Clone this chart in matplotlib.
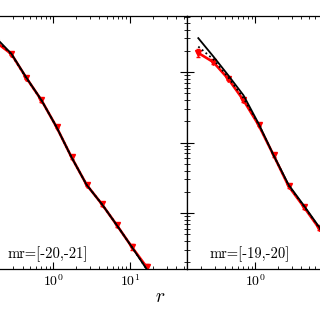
import numpy as np
import matplotlib
matplotlib.use("Agg")
import matplotlib.pyplot as plt

plt.rcParams['mathtext.fontset'] = 'cm'
plt.rcParams['font.family'] = ['cmr10', 'DejaVu Serif']
plt.rcParams['axes.formatter.use_mathtext'] = True

# log10 of separation r (common bin grid)
log_r = [-0.74, -0.544, -0.348, -0.152, 0.044, 0.24, 0.436, 0.632, 0.828, 1.024, 1.22]

# Left panel: mr=[-20,-21]  (log10 of the correlation values)
left_black = [2.48, 2.26, 1.92, 1.60, 1.22, 0.79, 0.40, 0.13, -0.17, -0.48, -0.80]
left_dotted = [2.46, 2.25, 1.91, 1.60, 1.22, 0.79, 0.40, 0.13, -0.17, -0.48, -0.80]
left_red = [2.42, 2.255, 1.915, 1.60, 1.22, 0.79, 0.40, 0.13, -0.17, -0.48, -0.77]
left_err = [0.04, 0.02, 0.02, 0.02, 0.02, 0.02, 0.02, 0.03, 0.03, 0.04, 0.05]

# Right panel: mr=[-19,-20]
right_black = [2.48, 2.22, 1.95, 1.67, 1.27, 0.82, 0.40, 0.11, -0.19, -0.50, -0.80]
right_dotted = [2.36, 2.18, 1.92, 1.63, 1.26, 0.82, 0.39, 0.10, -0.20, -0.50, -0.80]
right_red = [2.27, 2.14, 1.90, 1.60, 1.25, 0.82, 0.38, 0.09, -0.21, -0.50, -0.80]
right_err = [0.06, 0.03, 0.02, 0.02, 0.02, 0.02, 0.02, 0.03, 0.03, 0.04, 0.05]

labels = ['mr=[-20,-21]', 'mr=[-19,-20]']

fig = plt.figure(figsize=(3.2, 3.2), dpi=100)
W, H = 320.0, 320.0
top_px, bot_px = 16, 269
panel_w = 202
lefts = [-15, 187]

r = 10 ** np.array(log_r)
xlim = (10 ** -0.887, 10 ** 1.743)
ylim = (10 ** -0.794, 10 ** 2.794)

datasets = [(left_black, left_dotted, left_red, left_err),
            (right_black, right_dotted, right_red, right_err)]

for i, (lx, (blk, dot, red, err)) in enumerate(zip(lefts, datasets)):
    ax = fig.add_axes([lx / W, (H - bot_px) / H, panel_w / W, (bot_px - top_px) / H])
    ax.set_xscale('log')
    ax.set_yscale('log')
    redv = 10 ** np.array(red)
    lo = redv - 10 ** (np.array(red) - np.array(err))
    hi = 10 ** (np.array(red) + np.array(err)) - redv
    ax.errorbar(r, redv, yerr=[lo, hi], color='red', lw=1.9, marker='v',
                ms=4.5, capsize=1.5, elinewidth=1.0, zorder=2)
    ax.plot(r, 10 ** np.array(dot), color='black', lw=1.3, ls=':', zorder=3)
    ax.plot(r, 10 ** np.array(blk), color='black', lw=1.3, zorder=4)
    ax.set_xlim(*xlim)
    ax.set_ylim(*ylim)
    ax.tick_params(which='both', direction='in', top=True, right=True, labelsize=10)
    ax.tick_params(which='major', length=5, width=0.8)
    ax.tick_params(which='minor', length=2.5, width=0.6)
    ax.set_yticklabels([], minor=True)
    ax.set_yticklabels([])
    ax.set_xticks([1, 10])
    if i == 1:
        ax.set_xticklabels([r'$10^0$', ''])
    else:
        ax.set_xticklabels([r'$10^0$', r'$10^1$'])
    ax.text(0.11, 0.06, labels[i], transform=ax.transAxes, fontsize=10.5,
            ha='left', va='center')
    for s in ax.spines.values():
        s.set_linewidth(0.9)

fig.text(160 / W, 1 - 297 / H, r'$r$', fontsize=14, ha='center', va='center')
fig.savefig('out.png', dpi=100)
